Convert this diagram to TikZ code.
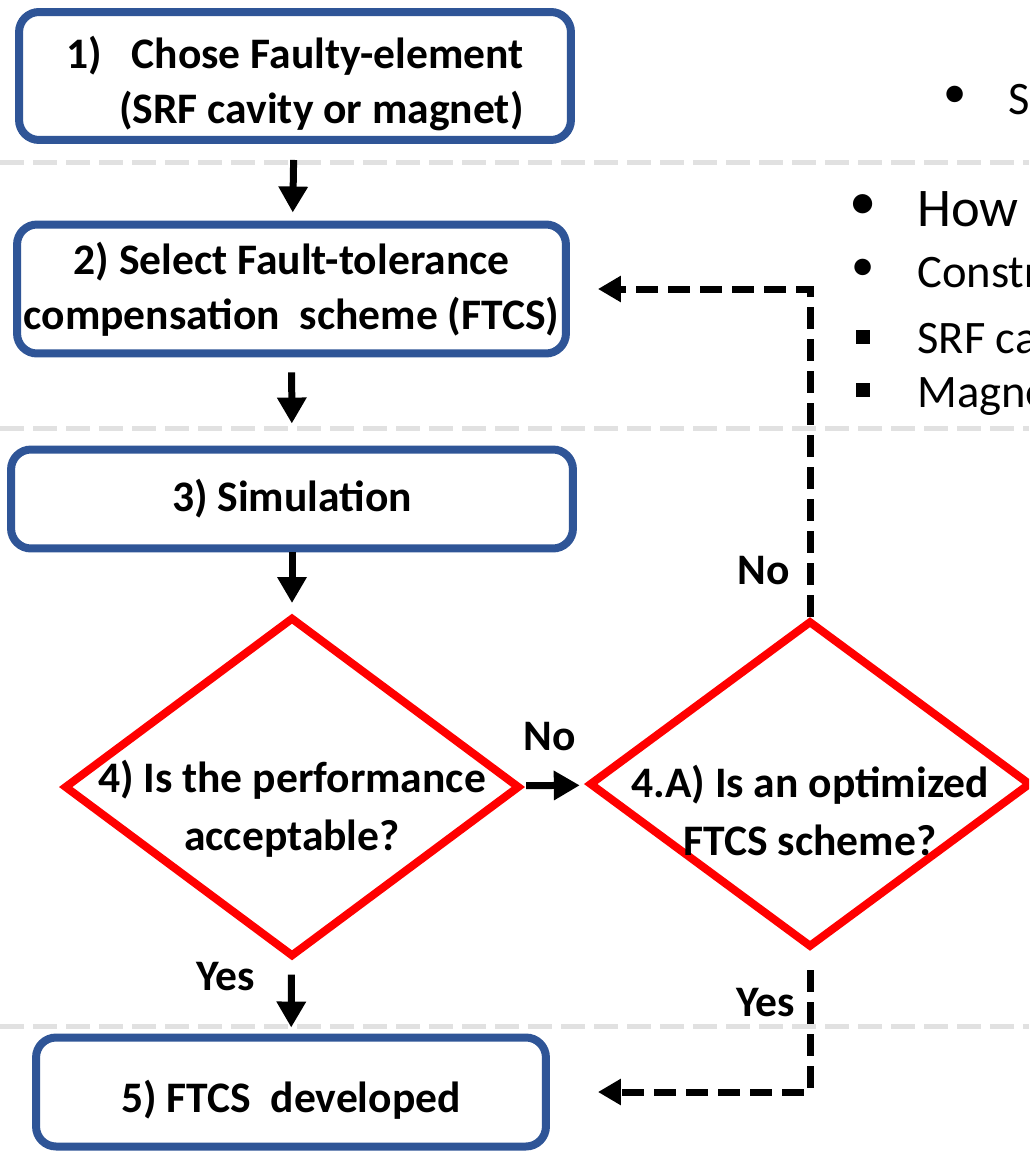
\documentclass[tikz,border=0pt]{standalone}
\usepackage{fontspec}
\setmainfont{Carlito}
\usetikzlibrary{shapes.geometric, arrows.meta, positioning}
\definecolor{boxblue}{RGB}{47, 85, 151}
\definecolor{decisionred}{RGB}{255, 0, 0}
\definecolor{sepgray}{RGB}{225, 225, 225}

\begin{document}
\begin{tikzpicture}[
  x=0.02cm, y=-0.02cm,
  stepbox/.style={draw=boxblue, line width=0.16cm, rounded corners=0.4cm,
                  fill=white, inner sep=0pt, align=center,
                  font=\bfseries\fontsize{24.8}{31.5}\selectfont},
  decision/.style={diamond, draw=decisionred, line width=0.16cm, inner sep=0pt},
  dtext/.style={align=center, inner sep=0pt,
                font=\bfseries\fontsize{24.8}{33}\selectfont},
  arrow/.style={-{Triangle[width=0.56cm, length=0.52cm]}, line width=0.14cm},
  darrow/.style={-{Triangle[width=0.5cm, length=0.46cm]}, line width=0.14cm,
                 dash pattern=on 0.44cm off 0.2cm},
  edgelabel/.style={font=\bfseries\fontsize{24.8}{30}\selectfont, inner sep=0pt},
  sepline/.style={sepgray, line width=0.1cm, dash pattern=on 0.48cm off 0.18cm},
  bodytext/.style={anchor=base west, inner sep=0pt, font=\fontsize{26.5}{32}\selectfont},
  sqbullet/.style={fill=black, inner sep=0pt, minimum size=0.27cm}
]
  \useasboundingbox (0,0) rectangle (1029,1152);
  \clip (0,0) rectangle (1029,1152);

  % separators
  \draw[sepline] (0,163) -- (1029,163);
  \draw[sepline] (0,428) -- (1029,428);
  \draw[sepline] (0,1026) -- (1029,1026);

  % flow
  \node[stepbox, minimum width=11.04cm, minimum height=2.56cm, align=right] (chose) at (295,76)
       {\rule{0pt}{0.95cm}1)~~~Chose Faulty-element\\(SRF cavity or magnet)};
  \node[stepbox, minimum width=10.98cm, minimum height=2.58cm] (select) at (291.5,289)
       {2) Select Fault-tolerance\\compensation~~scheme (FTCS)};
  \node[stepbox, minimum width=11.24cm, minimum height=1.98cm] (sim) at (292,499) {3) Simulation};
  \node[decision, minimum width=9.12cm, minimum height=6.8cm] (perf) at (292,787) {};
  \node[dtext] (perftxt) at ([yshift=-0.44cm]perf.center) {4) Is the performance\\acceptable?};
  \node[decision, minimum width=8.84cm, minimum height=6.54cm] (opt) at (810,784) {};
  \node[dtext] (opttxt) at ([yshift=-0.52cm]opt.center) {4.A) Is an optimized\\FTCS scheme?};
  \node[stepbox, minimum width=10.2cm, minimum height=2.18cm] (done) at (291,1092)
       {\rule{0pt}{0.95cm}5) FTCS~~developed};

  \draw[arrow, shorten <=0.32cm, shorten >=0.16cm] (chose) -- (select);
  \draw[arrow, shorten <=0.3cm, shorten >=0.44cm] (select) -- (sim);
  \draw[arrow, shorten >=0.2cm] (sim) -- (perf);
  \draw[arrow, shorten <=0.28cm, shorten >=0.12cm] (perf) -- (done);
  \draw[arrow, shorten <=0.08cm, shorten >=0.14cm] (perf) -- (opt);
  \draw[darrow, shorten >=0.56cm] (opt.north) |- (select.east);
  \draw[darrow, shorten <=0.38cm, shorten >=0.96cm] (opt.south) |- (done.east);

  \node[edgelabel] (nolbl) at (550,737) {No};
  \node[edgelabel] (noback) at (764,571) {No};
  \node[edgelabel] (yeslbl) at (226,977) {Yes};
  \node[edgelabel] (yesopt) at (766,1003) {Yes};

  % slide text behind
  \node[inner sep=0pt, font=\fontsize{26.5}{32}\selectfont] (b1) at (955,97) {•};
  \node[bodytext] (t1) at (1008,115) {S};
  \node[inner sep=0pt, font=\fontsize{31}{36}\selectfont] (b2) at (863,207) {•};
  \node[bodytext, font=\fontsize{31}{36}\selectfont] (t2) at (917,227) {How m};
  \node[inner sep=0pt, font=\fontsize{26.5}{32}\selectfont] (b3) at (863,270) {•};
  \node[bodytext] (t3) at (917,287) {Constr};
  \node[sqbullet] (b4) at (863,337) {};
  \node[bodytext] (t4) at (917,353) {SRF ca};
  \node[sqbullet] (b5) at (863,390) {};
  \node[bodytext] (t5) at (917,407) {Magne};
\end{tikzpicture}
\end{document}
